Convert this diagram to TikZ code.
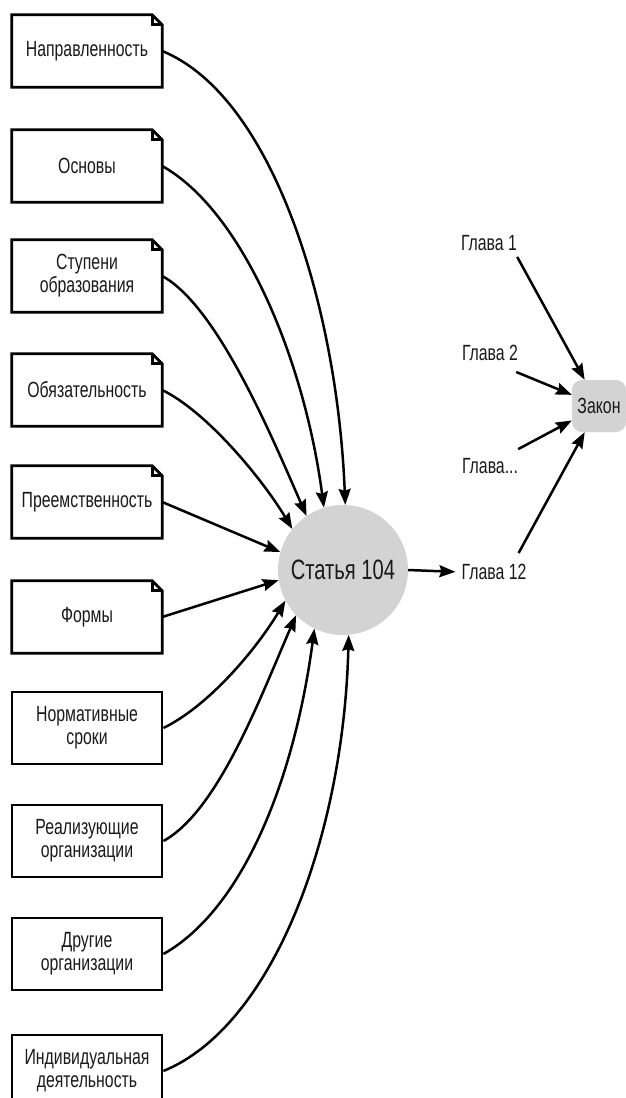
\documentclass[tikz,border=0pt]{standalone}
\usepackage{fontspec}
\setmainfont{Liberation Sans}[FakeStretch=0.72]
\usetikzlibrary{arrows.meta}
\definecolor{nodegray}{HTML}{D3D3D3}
\definecolor{txt}{HTML}{1A1A1A}
\tikzset{
  boxline/.style={line width=2.8pt, line join=miter},
  basebox/.style={minimum width=150pt, minimum height=72pt, inner sep=0pt, align=center,
    font=\fontsize{22}{23}\selectfont, text=txt},
  plainbox/.style={basebox, draw, line width=2.8pt},
  lbl/.style={font=\fontsize{22}{23}\selectfont, text=txt, inner sep=2pt},
  arr/.style={line width=2.5pt, -{Stealth[length=16pt,width=12pt,inset=2pt]}},
}
\newcommand\dogbox[1]{%
  \draw[boxline] (#1.north west) -- ([xshift=-10pt]#1.north east) -- ([yshift=-10pt]#1.north east)
     -- (#1.south east) -- (#1.south west) -- cycle;
  \draw[boxline] ([xshift=-10pt]#1.north east) |- ([yshift=-10pt]#1.north east);}
\begin{document}
\begin{tikzpicture}[x=1pt, y=-1pt]
\useasboundingbox (0,0) rectangle (626,1098);
\clip (0,0) rectangle (626,1098);
\fill[white] (0,0) rectangle (626,1098);

% left boxes
\node[basebox] (b1) at (87,51) {Направленность};
\node[basebox] (b2) at (87,166) {Основы};
\node[basebox] (b3) at (87,276) {Ступени\\образования};
\node[basebox] (b4) at (87,390) {Обязательность};
\node[basebox] (b5) at (87,502) {Преемственность};
\node[basebox] (b6) at (87,617) {Формы};
\node[plainbox] (b7) at (87,728) {Нормативные\\сроки};
\node[plainbox] (b8) at (87,841) {Реализующие\\организации};
\node[plainbox] (b9) at (87,954) {Другие\\организации};
\node[plainbox] (b10) at (87,1071) {Индивидуальная\\деятельность};
\dogbox{b1}\dogbox{b2}\dogbox{b3}\dogbox{b4}\dogbox{b5}\dogbox{b6}

% centre
\node[circle, fill=nodegray, minimum size=130pt, inner sep=0pt,
      font=\fontsize{28}{30}\selectfont, text=txt] (c) at (343,570) {Статья 104};

% right side
\node[lbl] (g1) at (489,243) {Глава 1};
\node[lbl] (g2) at (490,353) {Глава 2};
\node[lbl] (g3) at (490,466) {Глава...};
\node[lbl] (g12) at (494,572) {Глава 12};
\node[lbl, rounded corners=10pt, fill=nodegray, minimum width=54pt, minimum height=52pt,
      inner sep=0pt] (z) at (599,406) {Закон};

% connectors to the circle
\draw[arr] (b1.east) .. controls +(110,45) and +(-8,-200) .. (c.88);
\draw[arr] (b2.east) .. controls +(80,45) and +(-20,-150) .. (c.107);
\draw[arr] (b3.east) .. controls +(55,30) and +(-35,-80) .. (c.124);
\draw[arr] (b4.east) .. controls +(45,22) and +(-30,-50) .. (c.141);
\draw[arr] (b5.east) -- (c.164);
\draw[arr] (b6.east) -- (c.189);
\draw[arr] (b7.east) .. controls +(45,-22) and +(-30,50) .. (c.208);
\draw[arr] (b8.east) .. controls +(55,-30) and +(-35,80) .. (c.224);
\draw[arr] (b9.east) .. controls +(80,-45) and +(-20,150) .. (c.244);
\draw[arr] (b10.east) .. controls +(110,-45) and +(-5,200) .. (c.275);

% circle to chapter 12
\draw[arr, shorten >=4pt] (c.east) -- (g12.west);

% chapters to law
\draw[arr] ([shift={(-2pt,-4pt)}]g1.south east) -- (z);
\draw[arr] ([shift={(-4pt,-9pt)}]g2.south east) -- (z);
\draw[arr] ([shift={(-2pt,7pt)}]g3.north east) -- (z);
\draw[arr] ([shift={(-10pt,9pt)}]g12.north east) -- (z);
\end{tikzpicture}
\end{document}
